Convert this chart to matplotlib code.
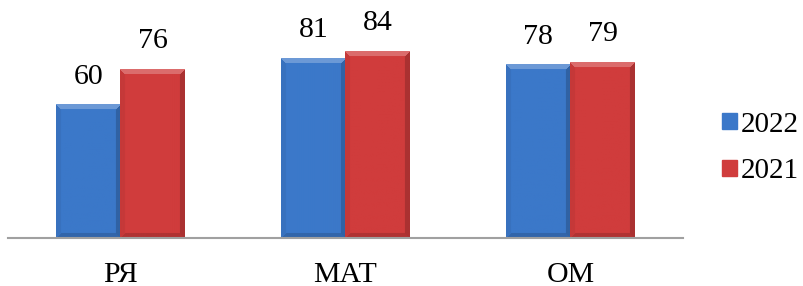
import numpy as np
import matplotlib
matplotlib.use('Agg')
import matplotlib.pyplot as plt
from matplotlib.patches import Patch
from matplotlib.colors import to_rgb

# data
categories = ['РЯ', 'МАТ', 'ОМ']
series_names = ['2022', '2021']
values_2022 = [60, 81, 78]
values_2021 = [76, 84, 79]

COLOURS = ['#3b78c9', '#d03c3c']
FS = 21.5

plt.rcParams['font.family'] = ['Liberation Serif', 'DejaVu Serif']

fig = plt.figure(figsize=(8.04, 2.86), dpi=100)
ax = fig.add_axes([8 / 804, 48 / 286, 675 / 804, 222 / 286])

x = np.arange(len(categories))
width = 0.285


def bevel_image(w, h, colour, b=5):
    # fake the office-style bevel: light top, darker right/bottom
    base = np.array(to_rgb(colour))
    i, j = np.mgrid[0:h, 0:w]
    d = np.stack([i, j, w - 1 - j, h - 1 - i])
    which = d.argmin(axis=0)
    near = d.min(axis=0) < b
    img = np.ones((h, w, 3)) * base
    img[near & (which == 0)] = base + (1 - base) * 0.25
    img[near & (which == 1)] = base * 0.95
    img[near & (which == 2)] = base * 0.82
    img[near & (which == 3)] = base * 0.85
    return img


bars = []
for k, (vals, col) in enumerate(zip([values_2022, values_2021], COLOURS)):
    offs = (k - 0.5) * width
    b = ax.bar(x + offs, vals, width, color=col, zorder=2)
    bars.append(b)

ax.set_xlim(-0.5, 2.5)
ax.set_ylim(0, 100)
fig.canvas.draw()

for b, col in zip(bars, COLOURS):
    for p in b.patches:
        x0, y0, w, h = p.get_x(), p.get_y(), p.get_width(), p.get_height()
        (px0, py0), (px1, py1) = ax.transData.transform([(x0, y0), (x0 + w, y0 + h)])
        img = bevel_image(int(round(px1 - px0)), int(round(py1 - py0)), col)
        ax.imshow(img, extent=(x0, x0 + w, y0, y0 + h), aspect='auto',
                  zorder=3, interpolation='bilinear')
        ax.annotate(f'{int(h)}', (x0 + w / 2, h), xytext=(0, 11),
                    textcoords='offset points', ha='center', va='bottom',
                    fontsize=FS)

ax.set_xlim(-0.5, 2.5)
ax.set_ylim(0, 100)
ax.set_xticks(x)
ax.set_xticklabels(categories, fontsize=FS)
ax.tick_params(axis='x', length=0, pad=17)
ax.set_yticks([])
for s in ['top', 'left', 'right']:
    ax.spines[s].set_visible(False)
ax.spines['bottom'].set_color('#a0a0a0')
ax.spines['bottom'].set_linewidth(1.5)
ax.spines['bottom'].set_zorder(4)

handles = [Patch(facecolor=c, edgecolor=c) for c in COLOURS]
fig.legend(handles, series_names, loc='center left',
           bbox_to_anchor=(722 / 804, 1 - 148 / 286), frameon=False,
           fontsize=21, handlelength=0.5, handleheight=0.5,
           handletextpad=0.15, labelspacing=0.72, borderpad=0,
           borderaxespad=0)

fig.savefig('out.png', dpi=100)
